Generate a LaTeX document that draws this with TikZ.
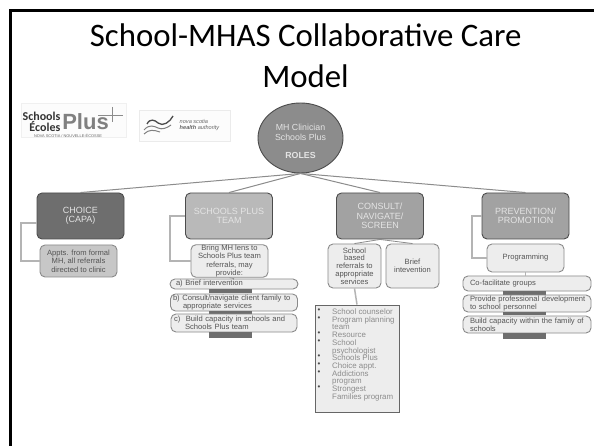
\documentclass[tikz,border=0pt]{standalone}
\usepackage{fontspec}
\usetikzlibrary{shapes.geometric}
\setmainfont{Liberation Sans}
\newfontfamily\titlefont{Carlito}
\definecolor{rimc}{HTML}{8A8A8A}
\definecolor{linkc}{HTML}{8C8C8C}
\definecolor{brk}{HTML}{B4B4B4}
\definecolor{heado}{HTML}{6E6E6E}
\definecolor{headl}{HTML}{B9B9B9}
\definecolor{headm}{HTML}{A2A2A2}
\definecolor{soft}{HTML}{EDEDED}
\definecolor{txt}{HTML}{555555}
\definecolor{pale}{HTML}{E4E4E4}
\tikzset{
 headbox/.style={draw=black!70,line width=0.9pt,rounded corners=5pt,minimum width=87pt,minimum height=46pt,inner sep=0pt,align=center,text=pale,font=\fontsize{9}{9.5}\selectfont},
 softbox/.style={draw=rimc,line width=0.9pt,fill=soft,rounded corners=5pt,inner sep=0pt,align=center,text=txt,font=\fontsize{7.6}{8.4}\selectfont},
 darkbar/.style={fill=heado,draw=none,inner sep=0pt,minimum width=43pt},
 link/.style={draw=linkc,line width=1pt},
 elbow/.style={draw=brk,line width=1.1pt},
 titletext/.style={font=\titlefont\fontsize{32.8}{36}\selectfont,text=black,inner sep=0pt,anchor=base}
}
\begin{document}
\begin{tikzpicture}[x=1pt,y=-1pt]
\useasboundingbox (0,0) rectangle (594,446);
\fill[white] (0,0) rectangle (594,446);
% slide frame
\draw[black,line width=2.6pt] (10.5,446) -- (10.5,10.5) -- (594,10.5);
% title
\node[titletext] (title1) at (305.7,47) {School-MHAS Collaborative Care};
\node[titletext] (title2) at (305.5,88) {Model};
% logos
\node[draw=black!6,fill=black!1,minimum width=105pt,minimum height=34pt,inner sep=0pt] (logoa) at (73.5,120) {};
\node[font=\titlefont\bfseries\fontsize{12}{9}\selectfont,align=right,text=black!80,inner sep=0pt] (logoa1) at (41.5,121.5) {Schools\\Écoles};
\node[font=\bfseries\fontsize{22}{22}\selectfont,text=black!50,inner sep=0pt] (logoa2) at (85.5,122) {Plus};
\node[font=\fontsize{3.9}{4}\selectfont,text=black!60,inner sep=0pt] (logoa3) at (68,135.5) {NOVA SCOTIA / NOUVELLE-ÉCOSSE};
\draw[black!45,line width=0.4pt] (112,107) -- (112,122) (98,115) -- (123,115);
\node[draw=black!8,fill=black!1,minimum width=91pt,minimum height=31pt,inner sep=0pt] (logob) at (184.5,125.5) {};
\draw[black!70,line width=1.3pt] (147,124) .. controls (150,118) and (155,120) .. (158,123) .. controls (163,127) and (170,122) .. (173,116);
\draw[black!50,line width=1pt] (144,130) .. controls (149,124) and (154,126) .. (158,128) .. controls (162,130) and (167,128) .. (171,125);
\draw[black!50,line width=1pt] (144,134) .. controls (149,129) and (154,130) .. (160,132);
\node[font=\itshape\fontsize{5.6}{6.2}\selectfont,align=left,text=black!60,inner sep=0pt] (logob1) at (199.5,125) {nova scotia\\\textbf{health} authority};
% root
\node[draw=black!70,line width=0.9pt,fill=black!45,ellipse,minimum width=85pt,minimum height=70pt,inner sep=0pt] (root) at (300.5,138) {};
\node[align=center,text=pale,inner sep=0pt,font=\fontsize{8.8}{10.5}\selectfont] (rootlabel) at (300.5,141.5) {MH Clinician\\Schools Plus\\[7.5pt]\textbf{ROLES}};
% heads
\node[headbox,fill=heado] (choice) at (80.5,216) {CHOICE\\(CAPA)};
\node[headbox,fill=headl] (team) at (229,216) {SCHOOLS PLUS\\TEAM};
\node[headbox,fill=headm] (consult) at (380,216) {CONSULT/\\NAVIGATE/\\SCREEN};
\node[headbox,fill=headm] (prev) at (525.5,216) {PREVENTION/\\PROMOTION};
\draw[link] (root.south) -- (choice.north);
\draw[link] (root.south) -- (team.north);
\draw[link] (root.south) -- (consult.north);
\draw[link] (root.south) -- (prev.north);
% choice child
\node[softbox,fill=black!22,minimum width=77pt,minimum height=32pt] (appts) at (78.5,261) {Appts. from formal\\MH, all referrals\\directed to clinic};
\coordinate (choicetap) at (37,223);
\draw[elbow] (choicetap) -- (21,223) |- (appts.west);
% team children
\node[softbox,minimum width=77pt,minimum height=32pt,font=\fontsize{7.6}{8.5}\selectfont] (lens) at (229.5,261) {Bring MH lens to\\Schools Plus team\\referrals, may\\provide:};
\draw[elbow] (team.west) -- (170,216) |- (lens.west);
\node[softbox,minimum width=128pt,minimum height=10pt,align=left,text width=124pt] (ta) at (234,284) {\hspace*{4pt}a) Brief intervention};
\draw[link,line width=0.6pt] (lens.south) -- (ta.north);
\node[darkbar,minimum height=4pt] (tbar1) at (230.5,291) {};
\node[softbox,minimum width=127pt,minimum height=17pt,align=left,text width=124pt] (tb) at (234,302.5) {\hspace*{1pt}b) Consult/navigate client family to\\\hspace*{11pt}appropriate services};
\node[darkbar,minimum height=3pt] (tbar2) at (230.5,312.5) {};
\node[softbox,minimum width=126pt,minimum height=18pt,align=left,text width=122pt] (tc) at (234,323) {\hspace*{1pt}c)\hspace*{3pt} Build capacity in schools and\\\hspace*{12pt}Schools Plus team};
\node[darkbar,minimum height=6pt] (tbar3) at (230.5,335) {};
% consult children
\node[softbox,minimum width=53pt,minimum height=44pt,font=\fontsize{7.6}{7.8}\selectfont] (school) at (354.5,266) {School\\based\\referrals to\\appropriate\\services};
\node[softbox,minimum width=53pt,minimum height=44pt] (brief) at (412.5,266) {Brief\\intevention};
\draw[link,line width=0.8pt] (consult.south) -- (school.north);
\draw[link,line width=0.8pt] (consult.south) -- (brief.north);
\node[draw=black!60,line width=0.9pt,fill=soft,minimum width=84pt,minimum height=107pt,inner sep=0pt] (list) at (357,358.5) {};
\draw[draw=brk,line width=1.5pt] (school.south) -- (list.north);
\node[anchor=north west,inner sep=0pt,align=left,text=black!45,font=\fontsize{7.9}{7.72}\selectfont] (listtext) at (332,308.5) {School counselor\\Program planning\\team\\Resource\\School\\psychologist\\Schools Plus\\Choice appt.\\Addictions\\program\\Strongest\\Families program};
\node[anchor=north west,inner sep=0pt,align=left,text=black!70,font=\fontsize{7.9}{7.72}\selectfont] (listbul) at (317.5,308.5) {•\\•\\\mbox{}\\•\\•\\\mbox{}\\•\\•\\•\\\mbox{}\\•};
% prevention children
\node[softbox,minimum width=77pt,minimum height=28pt] (prog) at (525.5,258) {Programming};
\coordinate (prevtap) at (482,216);
\draw[elbow] (prevtap) -- (472,216) |- (prog.west);
\node[softbox,minimum width=128pt,minimum height=15pt,align=left,text width=124pt] (pa) at (527,283.5) {\hspace*{5pt}Co-facilitate groups};
\draw[elbow,line width=0.8pt] (prog.south) -- (prog.south |- pa.north);
\node[darkbar,minimum height=4pt] (pbar1) at (524.5,293) {};
\node[softbox,minimum width=128pt,minimum height=17pt,align=left,text width=124pt] (pb) at (527,303.5) {\hspace*{5pt}Provide professional development\\\hspace*{5pt}to school personnel};
\node[darkbar,minimum height=3pt] (pbar2) at (524.5,313.5) {};
\node[softbox,minimum width=128pt,minimum height=17pt,align=left,text width=124pt] (pc) at (527,324.5) {\hspace*{5pt}Build capacity within the family of\\\hspace*{5pt}schools};
\node[darkbar,minimum height=6pt] (pbar3) at (524.5,336) {};
\end{tikzpicture}
\end{document}
